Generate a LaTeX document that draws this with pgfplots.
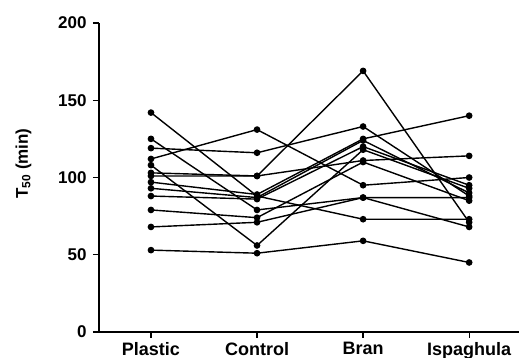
\documentclass[border=0pt]{standalone}
\usepackage{fontspec}
\setmainfont{Liberation Sans}
\usepackage{pgfplots}
\pgfplotsset{compat=1.18}
\tikzset{subj/.style={black, solid, line width=1.4pt, mark=*, mark size=2.6pt, mark options={solid, fill=black}}}
\begin{document}
\begin{tikzpicture}
\useasboundingbox (0,0) rectangle (519pt,358pt);
\begin{axis}[
  at={(99pt,26pt)}, anchor=south west,
  width=420pt, height=309pt, scale only axis,
  xmin=-0.49, xmax=3.47, ymin=0, ymax=200,
  axis x line=bottom, axis y line=left,
  axis line style={-, line width=1.3pt},
  xtick={0,1,2,3},
  xticklabels={Plastic,Control,Bran,Ispaghula},
  ytick={0,50,100,150,200},
  tick align=outside, major tick length=6pt,
  every tick/.style={black, line width=1.2pt},
  yticklabel style={font=\fontsize{17}{19}\selectfont\bfseries, xshift=-3pt},
  xticklabel style={font=\fontsize{18}{20}\selectfont\bfseries, yshift=-1pt},
  /pgf/number format/assume math mode=true,
  ylabel={T\textsubscript{50} (min)},
  ylabel style={font=\fontsize{17}{19}\selectfont\bfseries, at={(axis description cs:-0.18,0.545)}, anchor=center},
]
\addplot[subj] coordinates {(0,142) (1,88) (2,73) (3,73)};
\addplot[subj] coordinates {(0,125) (1,79) (2,87) (3,68)};
\addplot[subj] coordinates {(0,119) (1,116) (2,133) (3,88)};
\addplot[subj] coordinates {(0,112) (1,131) (2,95) (3,100)};
\addplot[subj] coordinates {(0,108) (1,56) (2,118) (3,93)};
\addplot[subj] coordinates {(0,103) (1,101) (2,169) (3,71)};
\addplot[subj] coordinates {(0,101) (1,101) (2,111) (3,114)};
\addplot[subj] coordinates {(0,97) (1,89) (2,125) (3,140)};
\addplot[subj] coordinates {(0,93) (1,87) (2,124) (3,90)};
\addplot[subj] coordinates {(0,88) (1,86) (2,120) (3,95)};
\addplot[subj] coordinates {(0,79) (1,74) (2,110) (3,85)};
\addplot[subj] coordinates {(0,68) (1,71) (2,87) (3,87)};
\addplot[subj] coordinates {(0,53) (1,51) (2,59) (3,45)};
\end{axis}
\end{tikzpicture}
\end{document}
